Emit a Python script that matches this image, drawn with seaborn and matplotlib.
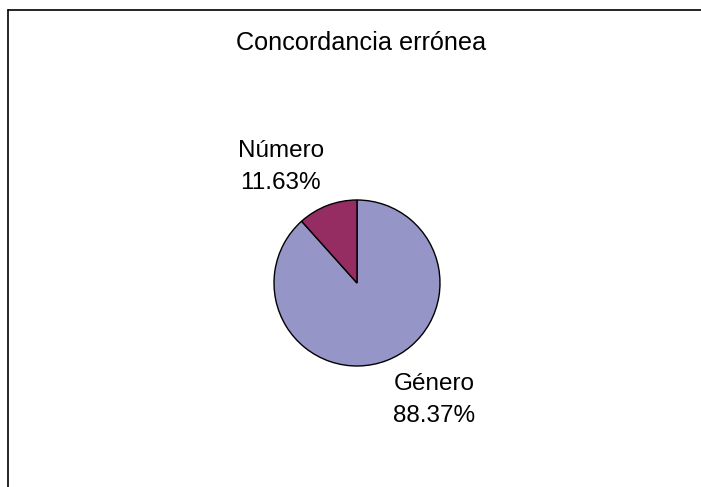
import matplotlib
matplotlib.use("Agg")
import matplotlib.pyplot as plt
import seaborn as sns
from matplotlib.lines import Line2D

# Datos
categorias = ["Género", "Número"]
porcentajes = [88.37, 11.63]
colores = ["#9595C8", "#952D62"]
titulo = "Concordancia errónea"

sns.set_style("white")
plt.rcParams['font.family'] = ['Liberation Sans', 'DejaVu Sans']
plt.rcParams['text.color'] = 'black'

W, H = 701, 487
fig = plt.figure(figsize=(W / 100, H / 100), dpi=100)
fig.patch.set_facecolor("white")

# borde (solo izquierda y arriba, como en la imagen)
fig.add_artist(Line2D([8 / W, 8 / W], [0, 1 - 10 / H], color="black", lw=1.2, transform=fig.transFigure))
fig.add_artist(Line2D([8 / W, 1], [1 - 10 / H, 1 - 10 / H], color="black", lw=1.2, transform=fig.transFigure))

# eje del pastel: centro (357, 283) px, radio 83 px
cx, cy, r = 357, 283, 83
ax = fig.add_axes([(cx - r) / W, (H - cy - r) / H, 2 * r / W, 2 * r / H])
wedges, _ = ax.pie(porcentajes, colors=colores, startangle=90, counterclock=False,
                   wedgeprops=dict(edgecolor="black", linewidth=1.0))
ax.set_xlim(-1, 1)
ax.set_ylim(-1, 1)
ax.set_aspect("equal")
ax.axis("off")

# etiquetas
pos_etiquetas = [(0.93, -1.41), (-0.92, 1.40)]
for cat, val, (x, y) in zip(categorias, porcentajes, pos_etiquetas):
    ax.text(x, y, f"{cat}\n{val:.2f}%", ha="center", va="center", fontsize=17.5,
            linespacing=1.62, clip_on=False, color="black")

fig.text(361 / W, 1 - 43.5 / H, titulo, ha="center", va="center", fontsize=18.2, color="black")

fig.savefig("out.png", dpi=100, facecolor="white")
